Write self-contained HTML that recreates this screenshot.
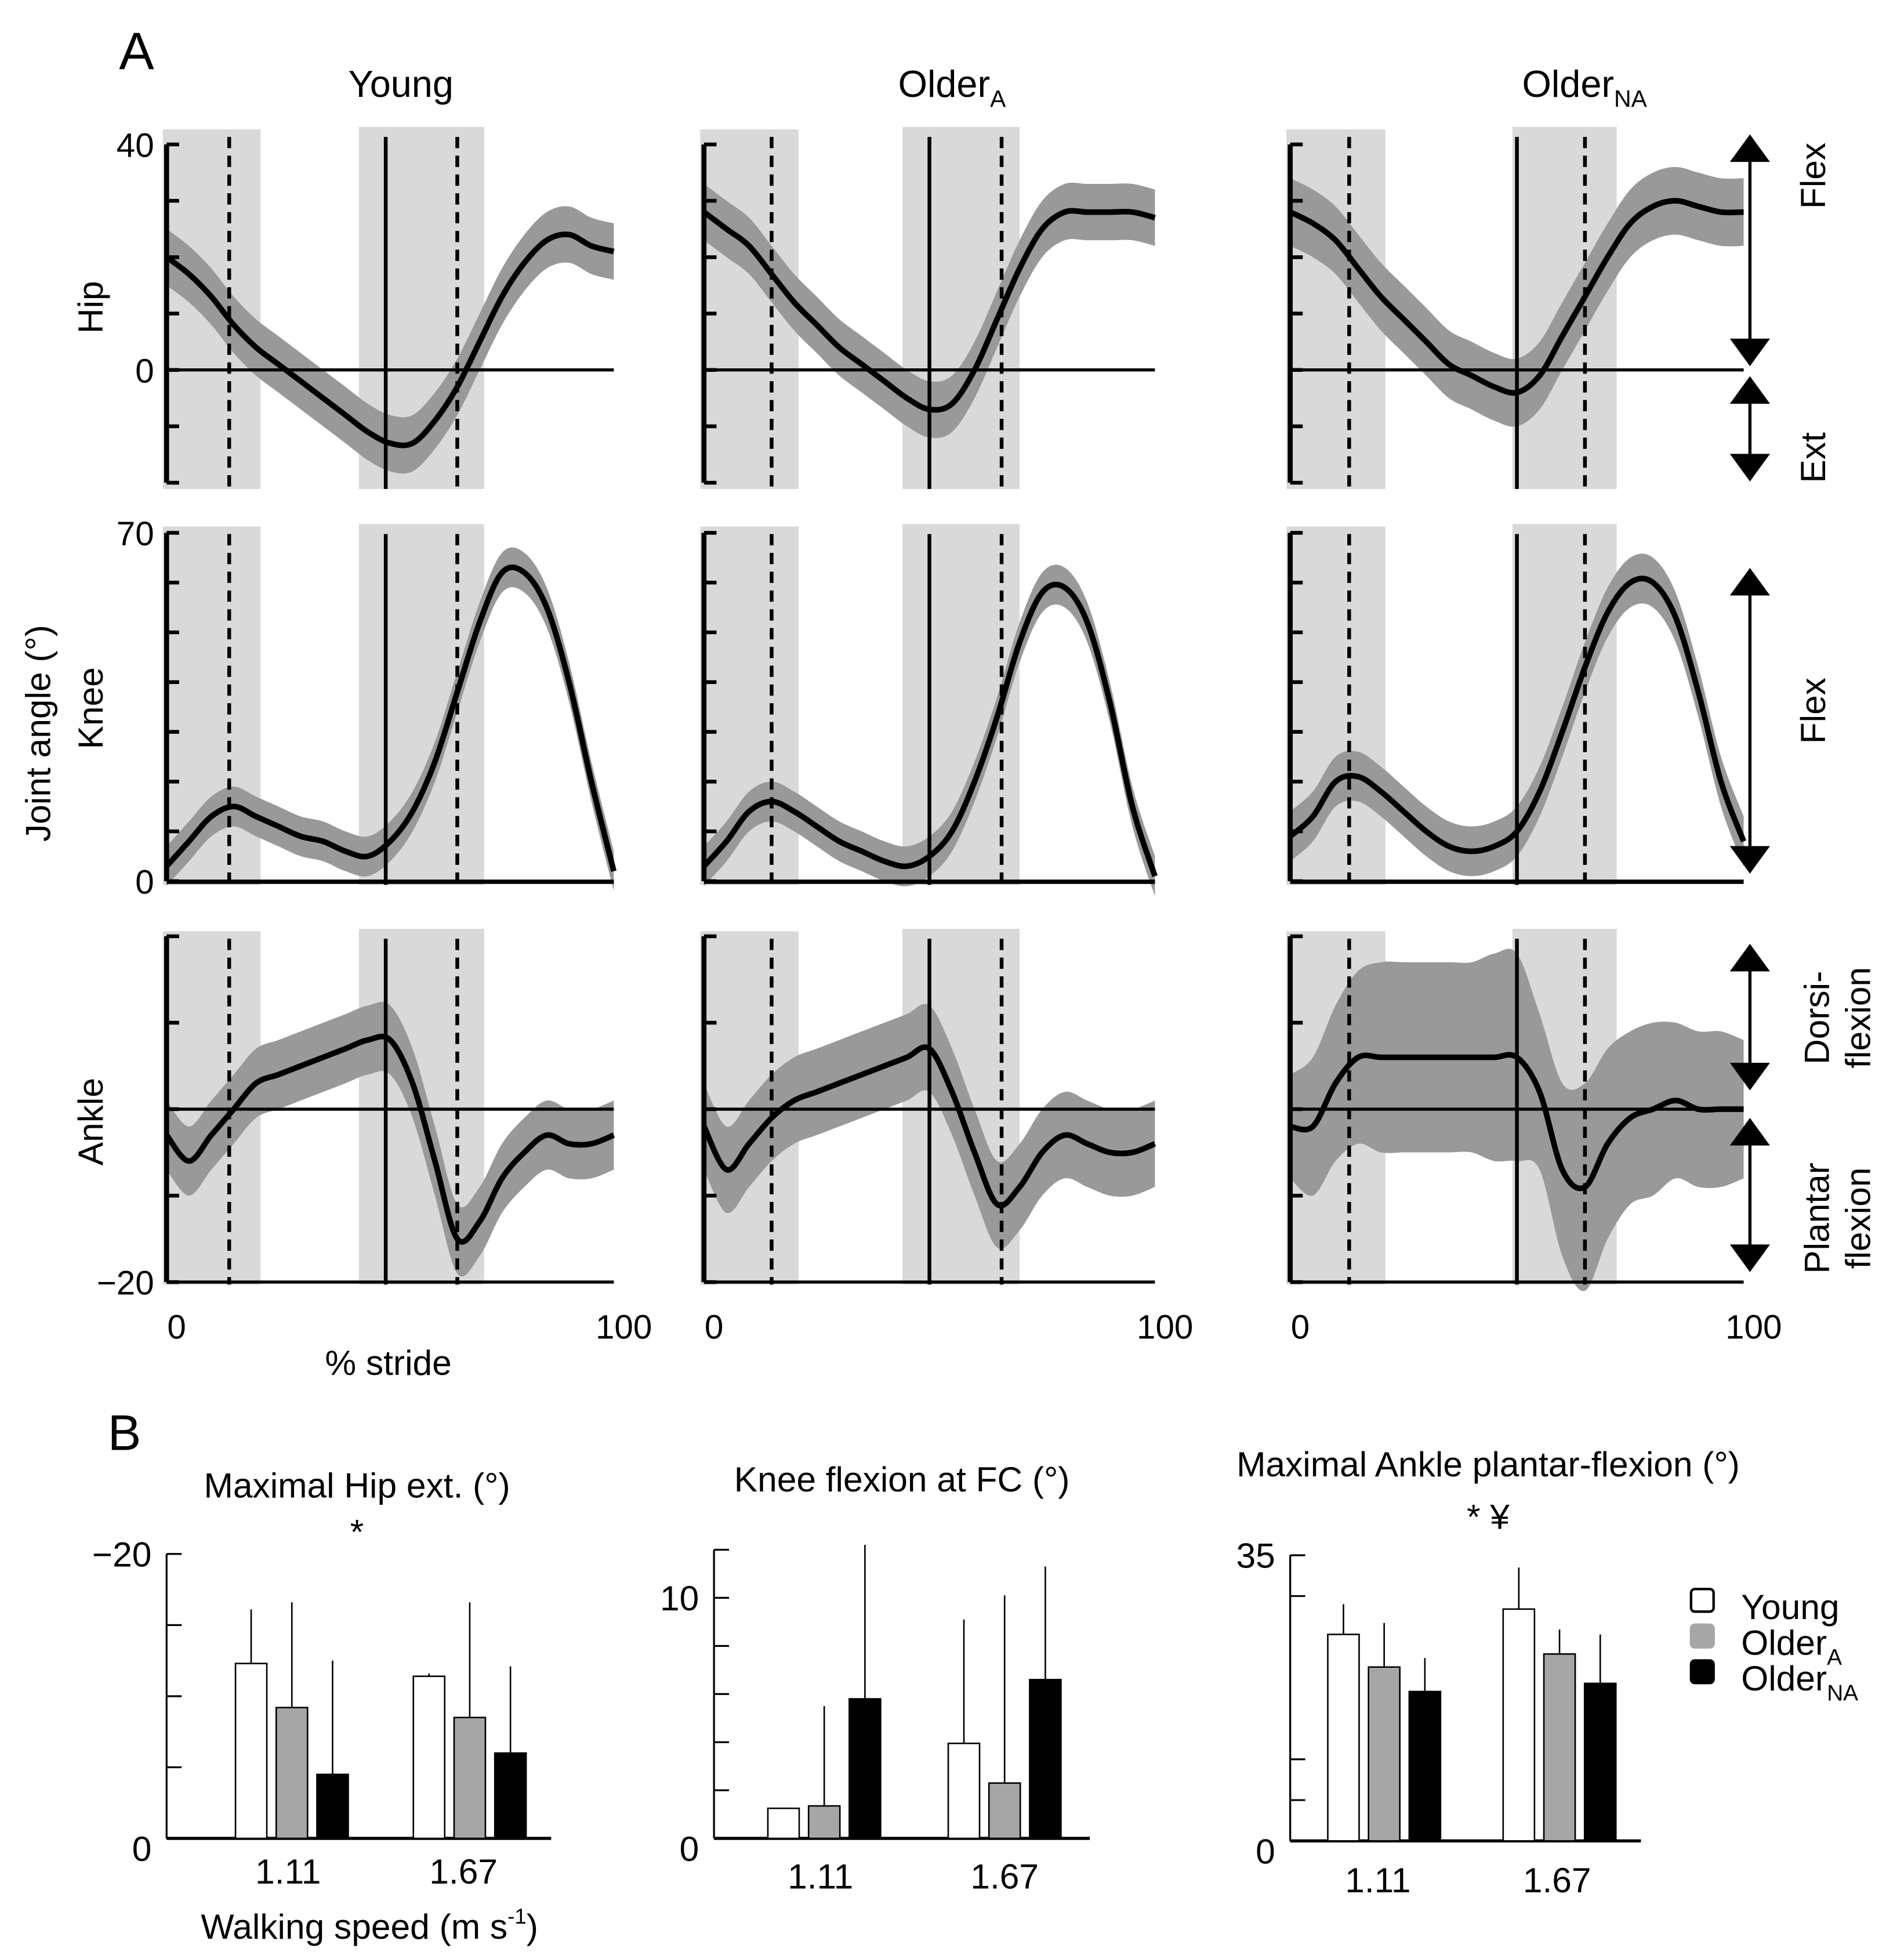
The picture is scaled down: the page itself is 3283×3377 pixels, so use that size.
<!DOCTYPE html>
<html><head><meta charset="utf-8"><style>
html,body{margin:0;padding:0;background:#fff;}
svg{display:block;font-family:"Liberation Sans",sans-serif;}
</style></head><body>
<svg id="fig" width="3283" height="3377" viewBox="0 0 1520 1563" xmlns="http://www.w3.org/2000/svg">
<rect width="1520" height="1563" fill="#fff"/>
<text x="95" y="55" font-size="42">A</text>
<text x="86" y="1157" font-size="40">B</text>
<text x="320" y="77" font-size="30" text-anchor="middle">Young</text>
<text x="760" y="77" font-size="30" text-anchor="middle">Older<tspan font-size="19" dy="8">A</tspan></text>
<text x="1265" y="77" font-size="30" text-anchor="middle">Older<tspan font-size="19" dy="8">NA</tspan></text>
<text transform="translate(82,245) rotate(-90)" font-size="28" text-anchor="middle">Hip</text>
<text transform="translate(82,565) rotate(-90)" font-size="28" text-anchor="middle">Knee</text>
<text transform="translate(82,895) rotate(-90)" font-size="28" text-anchor="middle">Ankle</text>
<text transform="translate(40,585) rotate(-90)" font-size="28" text-anchor="middle">Joint angle (°)</text>
<text x="310" y="1097" font-size="28" text-anchor="middle">% stride</text>
<g id="gA"></g>
<g id="gB"></g>
</svg>
<script>
const pct=[0,5,10,15,20,25,30,35,40,45,50,55,60,65,70,75,80,85,90,95,100];
const hipYoung=[20,17,13,8,4,1,-2,-5,-8,-11,-13,-13,-9,-3,5,13,19,23,24,22,21];
const hipOlderA=[28,25,22,17,12,8,4,1,-2,-5,-7,-6,0,9,18,25,28,28,28,28,27];
const hipOlderNA=[28,26,23,18,13,9,5,1,-1,-3,-4,-1,6,13,20,26,29,30,29,28,28];
const kneeYoung=[3,8,13,15,13,11,9,8,6,5,8,14,24,38,52,62,62,55,40,20,2];
const kneeOlderA=[3,8,14,16,14,11,8,6,4,3,5,10,20,33,48,58,59,52,36,15,1];
const kneeOlderNA=[9,13,20,21,18,14,10,7,6,7,10,18,30,43,54,60,60,53,38,20,8];
const ankleYoung=[-3,-6,-3,0,3,4,5,6,7,8,8,3,-6,-15,-13,-8,-5,-3,-4,-4,-3];
const ankleOlderA=[-2,-7,-4,-1,1,2,3,4,5,6,7,2,-5,-11,-9,-5,-3,-4,-5,-5,-4];
const ankleOlderNA=[-2,-2,3,6,6,6,6,6,6,6,6,2,-7,-9,-4,-1,0,1,0,0,0];
const sdHip=[5,5,6];
const sdKnee=[4,4,5];
const sdAnkle=[4,5,[6,8,9,10,11,11,11,11,11,12,12,9,10,12,11,10,10,9,9,9,8]];
const events=[[14,21,43,49,65,71],[15,21,44,50,66,70],[13,21,49,50,65,72]];

const NS="http://www.w3.org/2000/svg";
function el(t,a,p){const e=document.createElementNS(NS,t);for(const k in a)e.setAttribute(k,a[k]);p.appendChild(e);return e;}
function txt(s,a,p){const e=el('text',a,p);e.textContent=s;return e;}
const gA=document.getElementById('gA');
const cols=[[133,490],[562,922],[1030,1392]];
const rows=[
 {name:'hip',hi:40,y0:295,y1:115,top:103,bot:390,ticks:[40,30,20,10,0,-10,-20],data:[hipYoung,hipOlderA,hipOlderNA],sd:sdHip,tl:[[40,'40'],[0,'0']]},
 {name:'knee',hi:70,y0:703,y1:425,top:420,bot:706,ticks:[70,60,50,40,30,20,10,0],data:[kneeYoung,kneeOlderA,kneeOlderNA],sd:sdKnee,tl:[[70,'70'],[0,'0']]},
 {name:'ankle',hi:19,y0:885,y1:1023,v1:-20,top:743,bot:1025,ticks:[20,10,0,-10,-20],data:[ankleYoung,ankleOlderA,ankleOlderNA],sd:sdAnkle,tl:[[-20,'−20']]}
];
const panelNames=['young','older-a','older-na'];
function smooth(pts){let d='M'+pts[0][0]+','+pts[0][1];for(let i=0;i<pts.length-1;i++){const p0=pts[Math.max(0,i-1)],p1=pts[i],p2=pts[i+1],p3=pts[Math.min(pts.length-1,i+2)];
 d+=' C'+(p1[0]+(p2[0]-p0[0])/6)+','+(p1[1]+(p2[1]-p0[1])/6)+' '+(p2[0]-(p3[0]-p1[0])/6)+','+(p2[1]-(p3[1]-p1[1])/6)+' '+p2[0]+','+p2[1];}return d;}
rows.forEach((r,ri)=>{
 const v1=r.v1!==undefined?r.v1:r.hi;
 const Y=v=>r.y0+(v)*(r.y1-r.y0)/v1;
 cols.forEach((c,ci)=>{
  const X=p=>c[0]+p*(c[1]-c[0])/100;
  const g=el('g',{},gA);
  
  
  const ev=events[ci];
  const s1=el('rect',{x:X(0)-3,y:r.top,width:X(ev[1])-X(0)+3,height:r.bot-r.top,fill:'#d9d9d9'},g);
  
  
  const s2=el('rect',{x:X(ev[2]),y:r.top-2,width:X(ev[5])-X(ev[2]),height:r.bot-r.top+2,fill:'#d9d9d9'},g);
  
  
  const m=r.data[ci],sdv=r.sd[ci];
  const sd=i=>Array.isArray(sdv)?sdv[i]:sdv;
  const up=pct.map((p,i)=>[X(p),Y(m[i]+sd(i))]),dn=pct.map((p,i)=>[X(p),Y(m[i]-sd(i))]).reverse();
  const sdn=smooth(dn);
  const bd=smooth(up)+' L'+dn[0][0]+','+dn[0][1]+sdn.slice(sdn.indexOf(' C'))+'Z';
  const band=el('path',{d:bd,fill:'#999'},g);
  
  
  const zl=el('line',{x1:X(0),x2:X(100),y1:Y(0),y2:Y(0),stroke:'#000','stroke-width':2.5},g);
  
  
  if(r.name!=='hip'){el('line',{x1:X(0),x2:X(100),y1:r.bot-2,y2:r.bot-2,stroke:'#000','stroke-width':2.5},g);}
  [[ev[0],'9,6'],[ev[4],'9,6'],[ev[3],'']].forEach(([p,da])=>{const l=el('line',{x1:X(p),x2:X(p),y1:r.top+6,y2:r.bot,stroke:'#000','stroke-width':3,'stroke-dasharray':da},g);
   
   });
  const ml=el('path',{d:smooth(pct.map((p,i)=>[X(p),Y(m[i])])),fill:'none',stroke:'#000','stroke-width':4.5},g);
  
  
  const ax=el('line',{x1:X(0),x2:X(0),y1:Y(r.ticks[0]),y2:Y(r.ticks[r.ticks.length-1]),stroke:'#000','stroke-width':4},g);
  
  
  r.ticks.forEach(t=>{el('line',{x1:X(0),x2:X(0)+10,y1:Y(t),y2:Y(t),stroke:'#000','stroke-width':3},g);});
  if(ci===0){r.tl.forEach(([v,s])=>{const t=txt(s,{x:X(0)-10,y:Y(v)+10,'font-size':27,'text-anchor':'end'},g);
   
   });}
  if(ri===2){const t0=txt('0',{x:X(0)+8,y:1068,'font-size':27,'text-anchor':'middle'},g);
   
   
   const t1=txt('100',{x:X(100)+8,y:1068,'font-size':27,'text-anchor':'middle'},g);
   
   }
 });
});
function arrow(y1,y2,name){const g=el('g',{},gA);
 el('line',{x1:1397,x2:1397,y1:y1+10,y2:y2-10,stroke:'#000','stroke-width':2.5},g);
 el('polygon',{points:`1381,${y1+22} 1413,${y1+22} 1397,${y1}`},g);
 el('polygon',{points:`1381,${y2-22} 1413,${y2-22} 1397,${y2}`},g);}
arrow(107,292,'hip-flex-arrow');arrow(300,384,'hip-ext-arrow');arrow(453,697,'knee-flex-arrow');arrow(753,870,'ankle-dorsi-arrow');arrow(892,1015,'ankle-plantar-arrow');
[['Flex',1457,140],['Ext',1457,365],['Flex',1457,567],['Dorsi-',1460,812],['flexion',1493,812],['Plantar',1460,972],['flexion',1493,972]].forEach(([s,x,y])=>{
 const t=txt(s,{transform:`translate(${x},${y}) rotate(-90)`,'font-size':28,'text-anchor':'middle'},gA);
 
 });

const speeds=['1.11','1.67'];
const hipExtMean=[[12.3,9.2,4.5],[11.4,8.5,6.0]];
const hipExtErr=[[16.1,16.6,12.5],[11.6,16.6,12.1]];
const kneeFcMean=[[1.25,1.35,5.8],[3.95,2.3,6.6]];
const kneeFcErr=[[1.25,5.5,12.2],[9.1,10.1,11.3]];
const anklePfMean=[[25.3,21.3,18.3],[28.4,22.9,19.3]];
const anklePfErr=[[29,26.7,22.4],[33.5,25.9,25.3]];
const gB=document.getElementById('gB');
const fills=['#fff','#a6a6a6','#000'];
const bars=[
 {name:'hip-ext',ax:133,xe:440,y0:1467,y1:1240,max:20,mean:hipExtMean,err:hipExtErr,gx:[188,330],ticks:[0,5,10,15,20],tl:[[20,'−20'],[0,'0']],title:'Maximal Hip ext. (°)',tx:285,ty:1195,sig:'*',sy:1232,lx:[230,370],ly:1503},
 {name:'knee-fc',ax:570,xe:870,y0:1467,y1:1275,max:10,mean:kneeFcMean,err:kneeFcErr,gx:[613,757],ticks:[0,2,4,6,8,10,12],tl:[[10,'10'],[0,'0']],title:'Knee flexion at FC (°)',tx:720,ty:1190,sig:'',lx:[655,802],ly:1507},
 {name:'ankle-pf',ax:1030,xe:1310,y0:1469,y1:1241,max:35,mean:anklePfMean,err:anklePfErr,gx:[1060,1200],ticks:[0,5,10,30,35],tl:[[35,'35'],[0,'0']],title:'Maximal Ankle plantar-flexion (°)',tx:1188,ty:1178,sig:'* ¥',sy:1220,lx:[1100,1243],ly:1510}
];
bars.forEach(b=>{
 const g=el('g',{},gB);
 
 
 const Y=v=>b.y0-(v/b.max)*(b.y0-b.y1);
 const top=Y(b.ticks[b.ticks.length-1]);
 el('line',{x1:b.ax,x2:b.ax,y1:top,y2:b.y0,stroke:'#000','stroke-width':1.5},g);
 el('line',{x1:b.ax,x2:b.xe,y1:b.y0,y2:b.y0,stroke:'#000','stroke-width':2.5},g);
 b.ticks.forEach(t=>el('line',{x1:b.ax,x2:b.ax+12,y1:Y(t),y2:Y(t),stroke:'#000','stroke-width':1.5},g));
 b.tl.forEach(([v,s])=>{const t=txt(s,{x:b.ax-12,y:Y(v)+(v===0?18:10),'font-size':28,'text-anchor':'end'},g);
  
  });
 b.mean.forEach((grp,gi)=>grp.forEach((v,k)=>{
  const x=b.gx[gi]+k*32.5,w=25;
  const e=el('line',{x1:x+w/2,x2:x+w/2,y1:Y(b.err[gi][k]),y2:Y(v),stroke:'#000','stroke-width':1.2},g);
  
  
  const r=el('rect',{x:x,y:Y(v),width:w,height:b.y0-Y(v),fill:fills[k],stroke:'#000','stroke-width':1.2},g);
  
  
 }));
 speeds.forEach((s,i)=>{const t=txt(s,{x:b.lx[i],y:b.ly,'font-size':28,'text-anchor':'middle'},g);
  
  });
 const tt=txt(b.title,{x:b.tx,y:b.ty,'font-size':28,'text-anchor':'middle'},g);
 
 
 if(b.sig){const st=txt(b.sig,{x:b.tx,y:b.sy,'font-size':28,'text-anchor':'middle'},g);
  
  }
});
const ws=txt('Walking speed (m s',{x:295,y:1547,'font-size':28,'text-anchor':'middle'},gB);


const sup=el('tspan',{'font-size':17,dy:-12},ws);sup.textContent='-1';
const cl=el('tspan',{'font-size':28,dy:12},ws);cl.textContent=')';
const leg=el('g',{},gB);


[['Young',''],['Older','A'],['Older','NA']].forEach(([s,sub],i)=>{
 const y=1268+i*28.5;
 const r=el('rect',{x:1350,y:y,width:18,height:18,rx:3,fill:fills[i],stroke:i===1?'#a6a6a6':'#000','stroke-width':2},leg);
 
 
 const t=txt(s,{x:1390,y:y+24,'font-size':28},leg);
 
 
 if(sub){const ts=el('tspan',{'font-size':18,dy:8},t);ts.textContent=sub;}
});
</script>
</body></html>
